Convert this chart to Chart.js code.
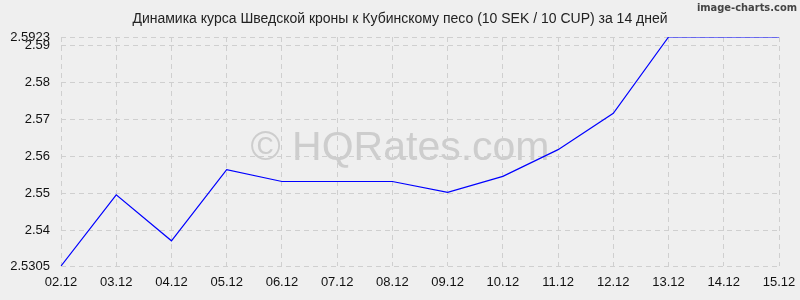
<!DOCTYPE html>
<html lang="ru">
<head>
  <meta charset="UTF-8" />
  <title>SEK / CUP</title>
  <style>
    body { margin: 0; padding: 0; background: #efefef; }
    #wrap { width: 800px; height: 300px; }
  </style>
</head>
<body>
  <div id="wrap"><canvas id="kurs" width="800" height="300"></canvas></div>

  <script src="https://cdn.jsdelivr.net/npm/chart.js"></script>
  <script>
    const dias = ["02.12", "03.12", "04.12", "05.12", "06.12", "07.12", "08.12",
                  "09.12", "10.12", "11.12", "12.12", "13.12", "14.12", "15.12"];
    const kurs = [2.5305, 2.5497, 2.5373, 2.5565, 2.5533, 2.5533, 2.5533,
                  2.5504, 2.5547, 2.5619, 2.5717, 2.5923, 2.5923, 2.5923];
    const yTicks = [2.5305, 2.54, 2.55, 2.56, 2.57, 2.58, 2.59, 2.5923];
    const titulo = "Динамика курса Шведской кроны к Кубинскому песо (10 SEK / 10 CUP) за 14 дней";

    const fondo = {
      id: "fondo",
      beforeDraw(chart) {
        const c = chart.ctx;
        c.save();
        c.fillStyle = "#efefef";
        c.fillRect(0, 0, chart.width, chart.height);
        c.fillStyle = "#222";
        c.font = "14px 'Liberation Sans', Arial, sans-serif";
        c.textAlign = "center";
        c.textBaseline = "middle";
        c.fillText(titulo, 400, 19);
        c.fillStyle = "#444";
        c.font = "bold 11px 'DejaVu Sans Condensed', 'DejaVu Sans', sans-serif";
        c.textAlign = "right";
        c.fillText("image-charts.com", 797, 8);
        c.fillStyle = "#cdcdcd";
        c.font = "41px 'Liberation Sans', Arial, sans-serif";
        c.textAlign = "center";
        c.textBaseline = "alphabetic";
        c.fillText("© HQRates.com", 400, 160);
        c.restore();
      }
    };

    new Chart(document.getElementById("kurs"), {
      type: "line",
      data: {
        labels: dias,
        datasets: [{
          data: kurs,
          borderColor: "#0000ff",
          borderWidth: 1.2,
          pointRadius: 0,
          tension: 0,
          fill: false,
        }],
      },
      options: {
        responsive: false,
        animation: false,
        layout: { padding: { top: 37, right: 21, left: 0, bottom: 0 } },
        plugins: { legend: { display: false }, tooltip: { enabled: false } },
        scales: {
          x: {
            offset: false,
            grid: { color: "#cfcfcf", drawTicks: false, tickLength: 0 },
            border: { display: false, dash: [5, 4] },
            ticks: { color: "#111", font: { size: 13, family: "'Liberation Sans', Arial" }, padding: 9, maxRotation: 0, autoSkip: false },
            afterFit(s) { s.height = 34; s.paddingRight = 0; s.paddingLeft = 0; },
          },
          y: {
            min: 2.5305,
            max: 2.5923,
            afterBuildTicks(s) { s.ticks = yTicks.map(v => ({ value: v })); },
            grid: { color: "#cfcfcf", drawTicks: false, tickLength: 0 },
            border: { display: false, dash: [5, 4] },
            ticks: { color: "#111", font: { size: 13, family: "'Liberation Sans', Arial" }, padding: 11,
                      callback: v => String(Math.round(v * 10000) / 10000) },
            afterFit(s) { s.width = 61; s.paddingTop = 0; s.paddingBottom = 0; },
          },
        },
      },
      plugins: [fondo],
    });
  </script>
</body>
</html>
